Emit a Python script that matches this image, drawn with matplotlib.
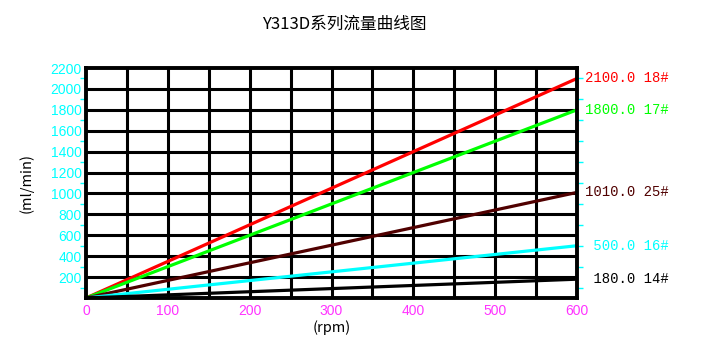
import matplotlib
matplotlib.use("Agg")
from matplotlib import pyplot as plt

plt.rcParams['font.family'] = ['Noto Sans CJK SC', 'DejaVu Sans']

# flow at 600 rpm for each pump model, lines start at 0
speed = [0, 600]
models = ["18#", "17#", "25#", "16#", "14#"]
flow_max = [2100.0, 1800.0, 1010.0, 500.0, 180.0]
colors = ["#ff0000", "#00ff00", "#500000", "#00ffff", "#000000"]

x_ticks = [0, 100, 200, 300, 400, 500, 600]
y_ticks = [200, 400, 600, 800, 1000, 1200, 1400, 1600, 1800, 2000, 2200]

fig = plt.figure(figsize=(7.09, 3.55), dpi=100)
W, H = 709, 355
ax = fig.add_axes([86 / W, (H - 298) / H, (577 - 86) / W, (298 - 68) / H])

ax.set_xlim(0, 600)
ax.set_ylim(0, 2200)

# grid: every 50 rpm, every 200 ml/min
for gx in range(50, 600, 50):
    ax.axvline(gx, color="black", lw=2.2, zorder=1)
for gy in range(200, 2200, 200):
    ax.axhline(gy, color="black", lw=2.2, zorder=1)

for q, c in zip(flow_max, colors):
    ax.plot(speed, [0, q], color=c, lw=2.3, zorder=3)

for spine in ax.spines.values():
    spine.set_linewidth(2.8)
    spine.set_zorder(4)

ax.set_xticks(x_ticks)
ax.set_yticks(y_ticks)
ax.tick_params(axis="x", colors="#ff33ff", length=0, labelsize=10, pad=4)
ax.tick_params(axis="y", colors="#00ffff", length=0, labelsize=10, pad=3)
for lbl in ax.get_xticklabels() + ax.get_yticklabels():
    lbl.set_family(["Liberation Sans", "DejaVu Sans"])

# small cyan marks at odd hundreds, both sides
ax.set_yticks(list(range(100, 2200, 200)), minor=True)
ax.tick_params(axis="y", which="minor", colors="#00ffff", length=4, width=1,
               left=True, right=True, direction="out")
ax.tick_params(axis="x", which="minor", length=0)

# right side value labels, numbers right-aligned
for q, m, c in zip(flow_max, models, colors):
    ax.annotate(f"{q:6.1f} {m}", xy=(600, q), xytext=(5.5, 0),
                textcoords="offset points", va="center", ha="left",
                color=c, fontsize=10, family=["Liberation Mono", "DejaVu Sans"],
                annotation_clip=False)

ax.set_xlabel("(rpm)", fontsize=10.5, labelpad=2)
ax.set_ylabel("(ml/min)", fontsize=10.5, labelpad=12)
fig.text(344 / W, 1 - 24 / H, "Y313D系列流量曲线图", ha="center", va="center",
         fontsize=12)

fig.savefig("out.png", dpi=100)
